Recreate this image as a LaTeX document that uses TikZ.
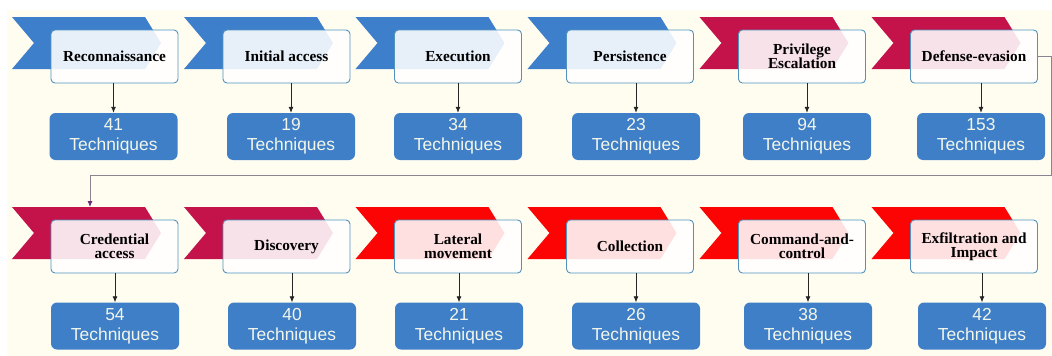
\documentclass[tikz,border=0pt]{standalone}
\usepackage{fontspec}
\setmainfont{Liberation Serif}
\newfontfamily\techfont{Liberation Sans}
\usetikzlibrary{arrows.meta}

\definecolor{bgcream}{HTML}{FFFDF0}
\definecolor{chevblue}{HTML}{3E7FCB}
\definecolor{chevcrimson}{HTML}{C4134B}
\definecolor{chevred}{HTML}{FC0404}
\definecolor{boxedge}{HTML}{5293BE}
\definecolor{techblue}{HTML}{3F7FC8}
\definecolor{techtext}{HTML}{F2F6EA}
\definecolor{flowgray}{HTML}{8C8290}
\definecolor{flowtip}{HTML}{6B2C7A}

\tikzset{
  stagebox/.style={draw=boxedge, line width=0.9pt, rounded corners=4pt, fill=white, fill opacity=0.88, text opacity=1,
    minimum width=127pt, minimum height=53pt, align=center, font=\bfseries\fontsize{15.3}{14}\selectfont},
  techbox/.style={fill=techblue, rounded corners=6pt, minimum width=128pt, minimum height=47pt, align=center,
    text=techtext, font=\techfont\fontsize{17.4}{20}\selectfont},
  countarrow/.style={draw=black!85, line width=0.8pt, -{Latex[length=6pt,width=5pt]}},
  flowline/.style={draw=flowgray, line width=0.9pt, -{Latex[length=6pt,width=5pt,color=flowtip]}}
}

\begin{document}
\begin{tikzpicture}[x=1pt, y=-1pt]
            \useasboundingbox (0,0) rectangle (1052,356);
            \fill[white] (0,0) rectangle (1052,356);
            \fill[bgcream] (7,10) rectangle (1052,356);

            % first row of chevrons
            \fill[chevblue, shift={(51,30)}] (-39,-13) -- (94,-13) -- (110,13) -- (94,39) -- (-39,39) -- (-17,13) -- cycle;
            \fill[chevblue, shift={(223,30)}] (-39,-13) -- (94,-13) -- (110,13) -- (94,39) -- (-39,39) -- (-17,13) -- cycle;
            \fill[chevblue, shift={(394.5,30)}] (-39,-13) -- (94,-13) -- (110,13) -- (94,39) -- (-39,39) -- (-17,13) -- cycle;
            \fill[chevblue, shift={(566.5,30)}] (-39,-13) -- (94,-13) -- (110,13) -- (94,39) -- (-39,39) -- (-17,13) -- cycle;
            \fill[chevcrimson, shift={(738.5,30)}] (-39,-13) -- (94,-13) -- (110,13) -- (94,39) -- (-39,39) -- (-17,13) -- cycle;
            \fill[chevcrimson, shift={(910.5,30)}] (-39,-13) -- (94,-13) -- (110,13) -- (94,39) -- (-39,39) -- (-17,13) -- cycle;

            % second row of chevrons
            \fill[chevcrimson, shift={(51,220)}] (-39,-13) -- (94,-13) -- (110,13) -- (94,39) -- (-39,39) -- (-17,13) -- cycle;
            \fill[chevcrimson, shift={(223,220)}] (-39,-13) -- (94,-13) -- (110,13) -- (94,39) -- (-39,39) -- (-17,13) -- cycle;
            \fill[chevred, shift={(394.5,220)}] (-39,-13) -- (94,-13) -- (110,13) -- (94,39) -- (-39,39) -- (-17,13) -- cycle;
            \fill[chevred, shift={(566.5,220)}] (-39,-13) -- (94,-13) -- (110,13) -- (94,39) -- (-39,39) -- (-17,13) -- cycle;
            \fill[chevred, shift={(738.5,220)}] (-39,-13) -- (94,-13) -- (110,13) -- (94,39) -- (-39,39) -- (-17,13) -- cycle;
            \fill[chevred, shift={(910.5,220)}] (-39,-13) -- (94,-13) -- (110,13) -- (94,39) -- (-39,39) -- (-17,13) -- cycle;
            \coordinate (credtop) at (90,207);

            % tactics
            \node[stagebox] (recon) at (114.5,56.5) {Reconnaissance};
            \node[stagebox] (initial) at (286.5,56.5) {Initial access};
            \node[stagebox] (execution) at (458,56.5) {Execution};
            \node[stagebox] (persistence) at (630,56.5) {Persistence};
            \node[stagebox] (privilege) at (802,56.5) {Privilege\\Escalation};
            \node[stagebox] (defense) at (974,56.5) {Defense-evasion};
            \node[stagebox] (credential) at (114.5,246.5) {Credential\\access};
            \node[stagebox] (discovery) at (286.5,246.5) {Discovery};
            \node[stagebox] (lateral) at (458,246.5) {Lateral\\movement};
            \node[stagebox] (collection) at (630,246.5) {Collection};
            \node[stagebox] (command) at (802,246.5) {Command-and-\\control};
            \node[stagebox] (exfil) at (974,246.5) {Exfiltration and\\Impact};

            % technique counts
            \node[techbox] (recon-n) at (113.5,136.5) {41\\Techniques};
            \node[techbox] (initial-n) at (291,136.5) {19\\Techniques};
            \node[techbox] (execution-n) at (458,136.5) {34\\Techniques};
            \node[techbox] (persistence-n) at (636,136.5) {23\\Techniques};
            \node[techbox] (privilege-n) at (807,136.5) {94\\Techniques};
            \node[techbox] (defense-n) at (981,136.5) {153\\Techniques};
            \node[techbox] (credential-n) at (115,326) {54\\Techniques};
            \node[techbox] (discovery-n) at (292,326) {40\\Techniques};
            \node[techbox] (lateral-n) at (459,326) {21\\Techniques};
            \node[techbox] (collection-n) at (636,326) {26\\Techniques};
            \node[techbox] (command-n) at (808,326) {38\\Techniques};
            \node[techbox] (exfil-n) at (982,326) {42\\Techniques};

            \draw[countarrow] (recon.south -| recon-n) -- (recon-n);
            \draw[countarrow] (initial.south -| initial-n) -- (initial-n);
            \draw[countarrow] (execution.south -| execution-n) -- (execution-n);
            \draw[countarrow] (persistence.south -| persistence-n) -- (persistence-n);
            \draw[countarrow] (privilege.south -| privilege-n) -- (privilege-n);
            \draw[countarrow] (defense.south -| defense-n) -- (defense-n);
            \draw[countarrow] (credential.south -| credential-n) -- (credential-n);
            \draw[countarrow] (discovery.south -| discovery-n) -- (discovery-n);
            \draw[countarrow] (lateral.south -| lateral-n) -- (lateral-n);
            \draw[countarrow] (collection.south -| collection-n) -- (collection-n);
            \draw[countarrow] (command.south -| command-n) -- (command-n);
            \draw[countarrow] (exfil.south -| exfil-n) -- (exfil-n);

            % wrap to second row
            \coordinate (turn) at (1051,175);
            \draw[flowline] (defense.east) -| (turn) -| (credtop);
        \end{tikzpicture}
\end{document}
